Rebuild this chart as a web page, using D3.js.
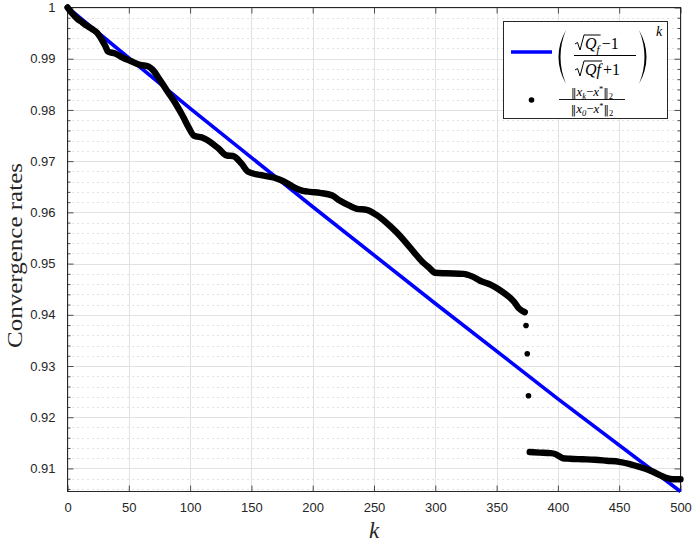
<!DOCTYPE html>
<html>
<head>
<meta charset="utf-8">
<script src="https://cdn.jsdelivr.net/npm/d3@7"></script>
<style>
  html, body { margin: 0; padding: 0; background: #fff; }
  svg { display: block; }
</style>
</head>
<body>
<svg id="chart" width="693" height="544"></svg>
<script>
// ---------------- data ----------------
const xTickValues = [0, 50, 100, 150, 200, 250, 300, 350, 400, 450, 500];
const yTickValues = [0.91, 0.92, 0.93, 0.94, 0.95, 0.96, 0.97, 0.98, 0.99, 1];
const yTickLabels = ["0.91", "0.92", "0.93", "0.94", "0.95", "0.96", "0.97", "0.98", "0.99", "1"];

// theoretical bound ((sqrt(Qf)-1)/(sqrt(Qf)+1))^k
const boundK = [0, 100, 200, 300, 400, 500];
const boundRate = [1, 0.9803, 0.9611, 0.9422, 0.9236, 0.9055];

// observed ||x_k - x*|| / ||x_0 - x*|| : first branch
const headK = [0, 4, 8, 12, 16, 20, 24, 28, 31, 33, 39, 45, 52, 59, 66, 70, 75, 81, 88, 94,
  99, 103, 111, 116, 123, 130, 135, 142, 147, 157, 168, 176, 184, 192, 198, 206, 216, 222,
  230, 236, 244, 252, 260, 268, 276, 283, 290, 295, 300, 309, 323, 330, 337, 345, 351, 358,
  364, 368, 373];
const headRate = [1.0000, 0.9988, 0.9978, 0.9971, 0.9964, 0.9958, 0.9951, 0.9937, 0.9924,
  0.9914, 0.9910, 0.9902, 0.9895, 0.9888, 0.9885, 0.9877, 0.9860, 0.9838, 0.9813, 0.9788,
  0.9765, 0.9750, 0.9745, 0.9738, 0.9725, 0.9711, 0.9710, 0.9695, 0.9680, 0.9673, 0.9668,
  0.9661, 0.9650, 0.9642, 0.9640, 0.9638, 0.9633, 0.9623, 0.9613, 0.9607, 0.9605, 0.9595,
  0.9580, 0.9562, 0.9541, 0.9521, 0.9502, 0.9492, 0.9482, 0.9481, 0.9480, 0.9475, 0.9466,
  0.9459, 0.9451, 0.9439, 0.9426, 0.9413, 0.9405];
// isolated points during the drop
const jumpK = [374, 375, 376];
const jumpRate = [0.9379, 0.9324, 0.9242];
// second branch
const tailK = [377, 385, 394, 398, 401, 404, 410, 420, 430, 440, 450, 458, 465, 472, 478,
  484, 489, 494, 500];
const tailRate = [0.9132, 0.9131, 0.9130, 0.9128, 0.9124, 0.9120, 0.9119, 0.9118, 0.9117,
  0.9115, 0.9113, 0.9109, 0.9104, 0.9099, 0.9093, 0.9086, 0.9081, 0.9079, 0.9079];

const xDomain = [0, 500];
const yDomain = [0.9055, 1];

// ---------------- layout ----------------
const svg = d3.select("#chart");
const L = 67.5, R = 680.5, T = 7.5, B = 491.5;
const x = d3.scaleLinear().domain(xDomain).range([L, R]);
const y = d3.scaleLinear().domain(yDomain).range([B, T]);
const axisColor = "#262626";
const tickFont = "'Liberation Sans', Arial, Helvetica, sans-serif";
const serif = "'Liberation Serif', 'Times New Roman', serif";

svg.append("rect").attr("width", 693).attr("height", 544).attr("fill", "#fff");

// grid
const yMinor = d3.range(0.906, 1.0, 0.002).filter(v => Math.abs(Math.round(v * 100) - v * 100) > 1e-6);
const grid = svg.append("g");
grid.selectAll(".ymin").data(yMinor).join("line")
  .attr("x1", L).attr("x2", R)
  .attr("y1", d => Math.round(y(d)) + 0.5).attr("y2", d => Math.round(y(d)) + 0.5)
  .attr("stroke", "#c4c4c4").attr("stroke-width", 1).attr("stroke-dasharray", "1,4");
grid.selectAll(".ymaj").data(yTickValues).join("line")
  .attr("x1", L).attr("x2", R)
  .attr("y1", d => Math.round(y(d)) + 0.5).attr("y2", d => Math.round(y(d)) + 0.5)
  .attr("stroke", "#e2e2e2").attr("stroke-width", 1);
grid.selectAll(".xmaj").data(xTickValues).join("line")
  .attr("y1", T).attr("y2", B)
  .attr("x1", d => Math.round(x(d)) + 0.5).attr("x2", d => Math.round(x(d)) + 0.5)
  .attr("stroke", "#e2e2e2").attr("stroke-width", 1);

// axes via d3 axis generators (ticks inward)
const gxB = svg.append("g").attr("transform", `translate(0,${B})`)
  .call(d3.axisBottom(x).tickValues(xTickValues).tickSize(-6).tickPadding(11).tickFormat(d3.format("d")));
const gxT = svg.append("g").attr("transform", `translate(0,${T})`)
  .call(d3.axisTop(x).tickValues(xTickValues).tickSize(-6).tickFormat(""));
const gyL = svg.append("g").attr("transform", `translate(${L},0)`)
  .call(d3.axisLeft(y).tickValues(yTickValues).tickSize(-6).tickPadding(12)
    .tickFormat((d, i) => yTickLabels[i]));
const gyR = svg.append("g").attr("transform", `translate(${R},0)`)
  .call(d3.axisRight(y).tickValues(yTickValues).tickSize(-6).tickFormat(""));
const gyLm = svg.append("g").attr("transform", `translate(${L},0)`)
  .call(d3.axisLeft(y).tickValues(yMinor).tickSize(-3).tickFormat(""));
const gyRm = svg.append("g").attr("transform", `translate(${R},0)`)
  .call(d3.axisRight(y).tickValues(yMinor).tickSize(-3).tickFormat(""));
[gxB, gxT, gyL, gyR, gyLm, gyRm].forEach(g => {
  g.select(".domain").remove();
  g.selectAll("line").attr("stroke", axisColor).attr("stroke-width", 0.8);
  g.selectAll("text").attr("fill", axisColor).attr("font-family", tickFont).attr("font-size", 13);
});
// box
svg.append("rect").attr("x", L).attr("y", T).attr("width", R - L).attr("height", B - T)
  .attr("fill", "none").attr("stroke", axisColor).attr("stroke-width", 1);

// ---------------- marks ----------------
const plot = svg.append("g");
const boundData = boundK.map((k, i) => [k, boundRate[i]]);
const headData = headK.map((k, i) => [k, headRate[i]]);
const jumpData = jumpK.map((k, i) => [k, jumpRate[i]]);
const tailData = tailK.map((k, i) => [k, tailRate[i]]);
const line = d3.line().x(d => x(d[0])).y(d => y(d[1])).curve(d3.curveMonotoneX);

plot.append("path").datum(boundData).attr("d", d3.line().x(d => x(d[0])).y(d => y(d[1])))
  .attr("fill", "none").attr("stroke", "#0000ff").attr("stroke-width", 3.6);

[headData, tailData].forEach(dat => {
  plot.append("path").datum(dat).attr("d", line)
    .attr("fill", "none").attr("stroke", "#000").attr("stroke-width", 6.4)
    .attr("stroke-linecap", "round").attr("stroke-linejoin", "round");
});
plot.selectAll(".jump").data(jumpData).join("circle")
  .attr("cx", d => x(d[0])).attr("cy", d => y(d[1])).attr("r", 2.8).attr("fill", "#000");

// ---------------- labels ----------------
svg.append("text").attr("x", 374).attr("y", 538).attr("text-anchor", "middle")
  .attr("font-family", serif).attr("font-style", "italic").attr("font-size", 23)
  .attr("fill", axisColor).text("k");
svg.append("text")
  .attr("transform", "translate(22,255.5) rotate(-90)")
  .attr("text-anchor", "middle").attr("font-family", serif).attr("font-size", 22)
  .attr("textLength", 185).attr("lengthAdjust", "spacingAndGlyphs")
  .attr("fill", axisColor).text("Convergence rates");

// ---------------- legend ----------------
const lg = svg.append("g");
lg.append("rect").attr("x", 503.5).attr("y", 21.5).attr("width", 164).attr("height", 97)
  .attr("fill", "#fff").attr("stroke", axisColor).attr("stroke-width", 1);
lg.append("line").attr("x1", 511).attr("x2", 552).attr("y1", 52).attr("y2", 52)
  .attr("stroke", "#0000ff").attr("stroke-width", 3.6);
// big parentheses
lg.append("path").attr("d", "M566,30 Q551,57 566,84 Q555,57 566,30 Z").attr("fill", "#000");
lg.append("path").attr("d", "M639,30 Q654,57 639,84 Q650,57 639,30 Z").attr("fill", "#000");

function sqrtTerm(xs, base, withSub) {
  const t = lg.append("text").attr("x", xs + 10).attr("y", base)
    .attr("font-family", serif).attr("font-size", 16).attr("fill", "#000");
  t.append("tspan").attr("font-style", "italic").text("Q");
  if (withSub) {
    t.append("tspan").attr("font-style", "italic").attr("font-size", 11).attr("dy", 4).text("f");
  } else {
    t.append("tspan").attr("font-style", "italic").text("f");
  }
  const w = t.node().getComputedTextLength();
  lg.append("path")
    .attr("d", `M${xs},${base - 5} L${xs + 2.5},${base - 6.5} L${xs + 5},${base + 1} L${xs + 9},${base - 14} L${xs + 11 + w},${base - 14}`)
    .attr("fill", "none").attr("stroke", "#000").attr("stroke-width", 1);
  return xs + 11 + w;
}
let e1 = sqrtTerm(575, 49, true);
lg.append("text").attr("x", e1 + 1).attr("y", 49).attr("font-family", serif).attr("font-size", 16)
  .attr("fill", "#000").text("\u22121");
let e2 = sqrtTerm(575, 75, false);
lg.append("text").attr("x", e2 + 1).attr("y", 75).attr("font-family", serif).attr("font-size", 16)
  .attr("fill", "#000").text("+1");
lg.append("line").attr("x1", 574).attr("x2", 636).attr("y1", 55.5).attr("y2", 55.5)
  .attr("stroke", "#000").attr("stroke-width", 1);
lg.append("text").attr("x", 656).attr("y", 36).attr("font-family", serif).attr("font-style", "italic")
  .attr("font-size", 14).attr("fill", "#000").text("k");

// second entry
lg.append("circle").attr("cx", 531.5).attr("cy", 100).attr("r", 2.8).attr("fill", "#000");
const barFont = "'DejaVu Serif', serif";
function normText(ybase, subIdx) {
  const t = lg.append("text").attr("x", 592).attr("y", ybase).attr("text-anchor", "middle")
    .attr("font-family", serif).attr("font-size", 13).attr("fill", "#000");
  t.append("tspan").attr("font-family", barFont).attr("font-size", 11).text("\u2016");
  t.append("tspan").attr("font-style", "italic").text("x");
  t.append("tspan").attr("font-style", "italic").attr("font-size", 8.5).attr("dy", 2.5).text(subIdx);
  t.append("tspan").attr("dy", -2.5).text("\u2212");
  t.append("tspan").attr("font-style", "italic").text("x");
  t.append("tspan").attr("font-size", 8.5).attr("dy", -4).text("*");
  t.append("tspan").attr("dy", 4).attr("font-family", barFont).attr("font-size", 11).text("\u2016");
  t.append("tspan").attr("font-size", 8.5).attr("dy", 2.5).text("2");
}
normText(96, "k");
normText(113, "0");
lg.append("line").attr("x1", 559).attr("x2", 625).attr("y1", 99.5).attr("y2", 99.5)
  .attr("stroke", "#000").attr("stroke-width", 0.9);
</script>
</body>
</html>
